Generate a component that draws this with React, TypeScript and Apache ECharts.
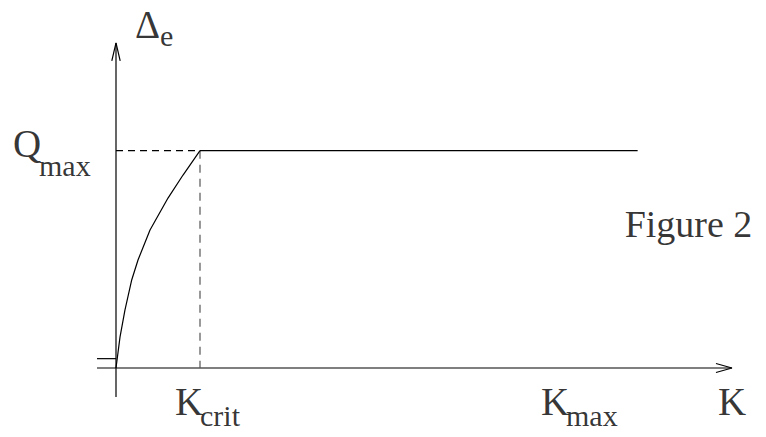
import React, { useEffect, useRef } from "react";
import * as echarts from "echarts";

// Response curve: Δe rises with K up to K_crit, then saturates at Q_max.
const curveK = [0, 0.048, 0.107, 0.187, 0.262, 0.405, 0.619, 0.798, 1];
const curveDelta = [0, 0.143, 0.267, 0.405, 0.497, 0.635, 0.782, 0.888, 1];
const K_CRIT = 1;
const K_MAX = 5.5;
const Q_MAX = 1;
const PLATEAU_END = 6.21;

// Axis extents (data units)
const X_AXIS_START = -0.226;
const X_AXIS_END = 7.333;
const Y_AXIS_START = -0.1335;
const Y_AXIS_END = 1.4957;
const BASE_TICK = 0.043;

// Label texts
const yLabel = ["Δ", "e"];
const qLabel = ["Q", "max"];
const kCritLabel = ["K", "crit"];
const kMaxLabel = ["K", "max"];
const xLabel = "K";
const caption = "Figure 2";

const SERIF = "Liberation Serif";

export default function App() {
  const ref = useRef<HTMLDivElement>(null);

  useEffect(() => {
    if (!ref.current) return;
    const W = 766;
    const H = 437;
    const UX = 84;
    const UY = 217.3;
    const OX = 116;
    const OY = 368;
    const chart = echarts.init(ref.current, null, { renderer: "svg", width: W, height: H });

    const curve = curveK.map((k, i) => [k, curveDelta[i]]);
    const ax = 16 / UX;
    const ay = 4.5 / UY;
    const bx = 4.2 / UX;
    const by = 18 / UY;

    const line = (data: number[][], color = "#000", type: any = "solid") => ({
      type: "line",
      symbol: "none",
      data,
      lineStyle: { color, width: 1.2, type },
    });

    // a text anchored at a data point, shifted by a pixel offset (top-left corner)
    const tag = (text: string, at: number[], dx: number, dy: number, fontSize: number) => ({
      value: at,
      label: {
        show: true,
        formatter: text,
        position: [0, 0],
        align: "left",
        verticalAlign: "top",
        offset: [dx, dy],
        fontFamily: SERIF,
        fontSize,
        color: "#000",
      },
    });

    chart.setOption({
      animation: false,
      backgroundColor: "#fff",
      grid: { left: 0, right: 0, top: 0, bottom: 0 },
      xAxis: { type: "value", min: -OX / UX, max: (W - OX) / UX, show: false },
      yAxis: { type: "value", min: -(H - OY) / UY, max: OY / UY, show: false },
      series: [
        line([[X_AXIS_START, 0], [X_AXIS_END, 0]]),
        line([[0, Y_AXIS_START], [0, Y_AXIS_END]]),
        line([[X_AXIS_END - ax, ay], [X_AXIS_END, 0], [X_AXIS_END - ax, -ay]]),
        line([[-bx, Y_AXIS_END - by], [0, Y_AXIS_END], [bx, Y_AXIS_END - by]]),
        line([[X_AXIS_START, BASE_TICK], [0, BASE_TICK]]),
        line([[0, Q_MAX], [K_CRIT, Q_MAX]], "#000", [7, 5]),
        line([[K_CRIT, Q_MAX], [K_CRIT, 0]], "#555", [8, 6]),
        line(curve),
        line([[K_CRIT, Q_MAX], [PLATEAU_END, Q_MAX]]),
        {
          type: "scatter",
          symbolSize: 0,
          silent: true,
          data: [
            tag(yLabel[0], [0, Y_AXIS_END], 19, -38, 39),
            tag(yLabel[1], [0, Y_AXIS_END], 44, -22, 30),
            tag(qLabel[0], [0, Q_MAX], -103, -27, 39),
            tag(qLabel[1], [0, Q_MAX], -77, 0, 30),
            tag(kCritLabel[0], [K_CRIT, 0], -25, 14, 39),
            tag(kCritLabel[1], [K_CRIT, 0], 0, 32, 30),
            tag(kMaxLabel[0], [K_MAX, 0], -37, 14, 39),
            tag(kMaxLabel[1], [K_MAX, 0], -12, 32, 30),
            tag(xLabel, [X_AXIS_END, 0], -14, 14, 39),
            tag(caption, [PLATEAU_END, Q_MAX], -13, 54, 38),
          ],
        },
      ],
    });

    return () => chart.dispose();
  }, []);

  return <div ref={ref} style={{ position: "absolute", left: 0, top: 0, width: 766, height: 437 }} />;
}
